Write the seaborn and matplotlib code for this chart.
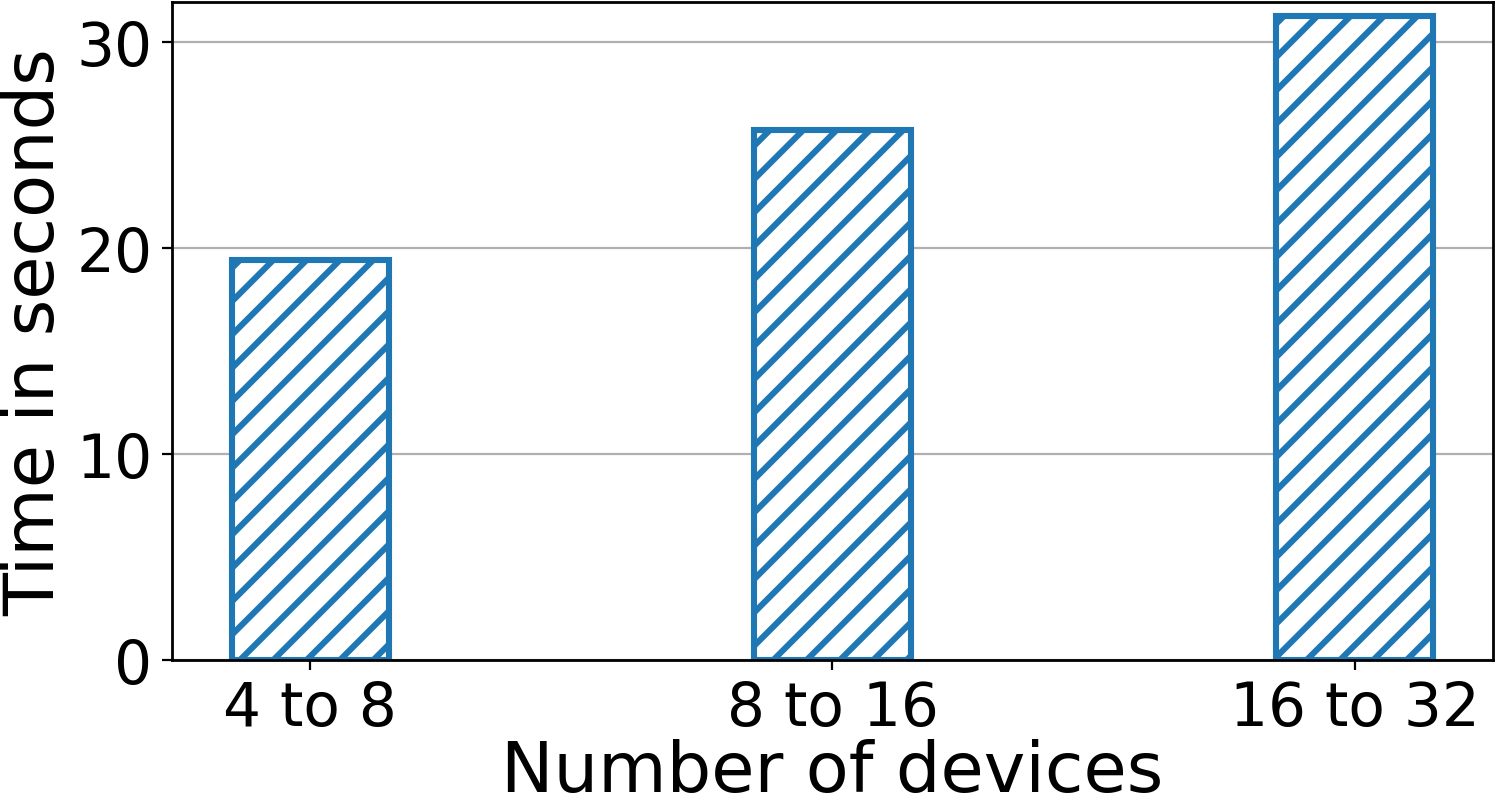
import matplotlib
matplotlib.use("Agg")
import matplotlib.pyplot as plt
import seaborn as sns
import pandas as pd

# 数据
categories = ["4 to 8", "8 to 16", "16 to 32"]
times = [19.42, 25.73, 31.26]

df = pd.DataFrame({"devices": categories, "time": times})

plt.rcParams["font.family"] = ["DejaVu Sans"]
plt.rcParams["hatch.linewidth"] = 2.2
plt.rcParams["hatch.color"] = "#1f77b4"
plt.rcParams["axes.linewidth"] = 1.0

fig = plt.figure(figsize=(7.475, 4.02), dpi=200)
ax = fig.add_axes([0.115, 0.178, 0.8837, 0.8185])

sns.barplot(data=df, x="devices", y="time", width=0.3, ax=ax,
            color="white", edgecolor="#1f77b4", linewidth=2.2, hatch="//")
for p in ax.patches:
    p.set_facecolor("white")
    p.set_edgecolor("#1f77b4")

ax.set_xlim(-0.265, 2.265)
ax.set_ylim(0, 31.95)
ax.set_yticks([0, 10, 20, 30])
ax.grid(axis="y", color="#b0b0b0", linewidth=0.8)
ax.set_axisbelow(True)
ax.tick_params(axis="both", labelsize=21.5)
ax.set_xlabel("Number of devices", fontsize=25.3, labelpad=0)
ax.set_ylabel("Time in seconds", fontsize=25.3, labelpad=3)

fig.savefig("out.png", dpi=200)
